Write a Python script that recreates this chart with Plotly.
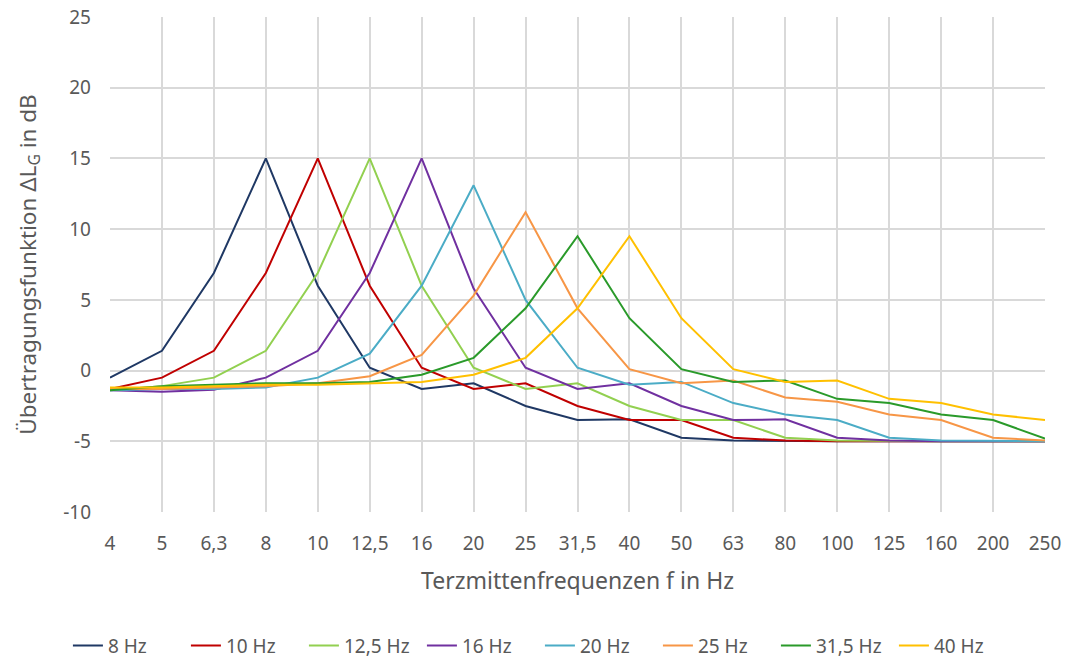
import plotly.graph_objects as go

categories = ["4", "5", "6,3", "8", "10", "12,5", "16", "20", "25", "31,5",
              "40", "50", "63", "80", "100", "125", "160", "200", "250"]

s8 = [-0.5, 1.4, 6.9, 15.0, 6.0, 0.2, -1.3, -0.9, -2.5, -3.5, -3.45, -4.75, -4.95, -5.0, -5.0, -5.0, -5.0, -5.0, -5.0]
s10 = [-1.3, -0.5, 1.4, 6.9, 15.0, 6.0, 0.2, -1.3, -0.9, -2.5, -3.5, -3.5, -4.75, -4.95, -5.0, -5.0, -5.0, -5.0, -5.0]
s12_5 = [-1.4, -1.1, -0.5, 1.4, 6.9, 15.0, 6.0, 0.2, -1.3, -0.9, -2.5, -3.5, -3.5, -4.75, -4.95, -5.0, -5.0, -5.0, -5.0]
s16 = [-1.4, -1.5, -1.35, -0.5, 1.4, 6.9, 15.0, 5.8, 0.2, -1.3, -0.9, -2.5, -3.5, -3.45, -4.75, -4.95, -5.0, -5.0, -5.0]
s20 = [-1.4, -1.3, -1.3, -1.2, -0.5, 1.2, 6.0, 13.1, 5.0, 0.2, -1.0, -0.8, -2.3, -3.1, -3.5, -4.75, -4.95, -5.0, -5.0]
s25 = [-1.3, -1.3, -1.2, -1.1, -0.9, -0.4, 1.1, 5.3, 11.2, 4.4, 0.1, -0.9, -0.7, -1.9, -2.2, -3.1, -3.5, -4.75, -4.95]
s31_5 = [-1.4, -1.1, -1.0, -0.9, -0.9, -0.8, -0.3, 0.9, 4.4, 9.5, 3.7, 0.1, -0.8, -0.7, -2.0, -2.3, -3.1, -3.5, -4.8]
s40 = [-1.2, -1.2, -1.1, -1.0, -1.0, -0.9, -0.8, -0.3, 0.9, 4.4, 9.5, 3.7, 0.1, -0.8, -0.7, -2.0, -2.3, -3.1, -3.5]

series_names = ["8 Hz", "10 Hz", "12,5 Hz", "16 Hz", "20 Hz", "25 Hz", "31,5 Hz", "40 Hz"]
series_values = [s8, s10, s12_5, s16, s20, s25, s31_5, s40]
colors = ["#1F3864", "#C00000", "#92D050", "#7030A0", "#4BACC6", "#F79646", "#2A9A2A", "#FFC000"]

y_tickvals = [-10, -5, 0, 5, 10, 15, 20, 25]
y_ticktext = ["-10", "-5", "0", "5", "10", "15", "20", "25"]

FONT = "Noto Sans"
GREY = "#595959"

fig = go.Figure()
for name, vals, col in zip(series_names, series_values, colors):
    fig.add_trace(go.Scatter(x=categories, y=vals, mode="lines", name=name,
                             line=dict(color=col, width=2)))

fig.update_layout(
    width=1072, height=662,
    margin=dict(l=110, r=27, t=17, b=150, autoexpand=False),
    paper_bgcolor="white", plot_bgcolor="white",
    font=dict(family=FONT, color=GREY, size=19),
    showlegend=True,
    legend=dict(orientation="h", x=-0.045, xanchor="left", y=-0.27, yanchor="middle",
                font=dict(size=19, color=GREY), itemwidth=30, traceorder="normal",
                entrywidth=73, entrywidthmode="pixels"),
    xaxis=dict(
        type="category", range=[0, len(categories) - 1],
        showgrid=True, gridcolor="#D9D9D9", gridwidth=1.5,
        tickfont=dict(size=19, color=GREY), ticks="", ticklabelstandoff=18,
        title=dict(text="Terzmittenfrequenzen f in Hz", font=dict(size=23, color=GREY), standoff=17),
        showline=False, zeroline=False, automargin=False,
    ),
    yaxis=dict(
        range=[-10, 25], tickvals=y_tickvals, ticktext=y_ticktext,
        showgrid=True, gridcolor="#D9D9D9", gridwidth=1.5,
        tickfont=dict(size=19, color=GREY), ticks="", ticklabelstandoff=18,
        title=dict(text="Übertragungsfunktion ΔL<sub>G</sub> in dB", font=dict(size=22.5, color=GREY), standoff=20),
        zeroline=False, showline=False, automargin=False,
    ),
)

fig.write_html("out.html")
